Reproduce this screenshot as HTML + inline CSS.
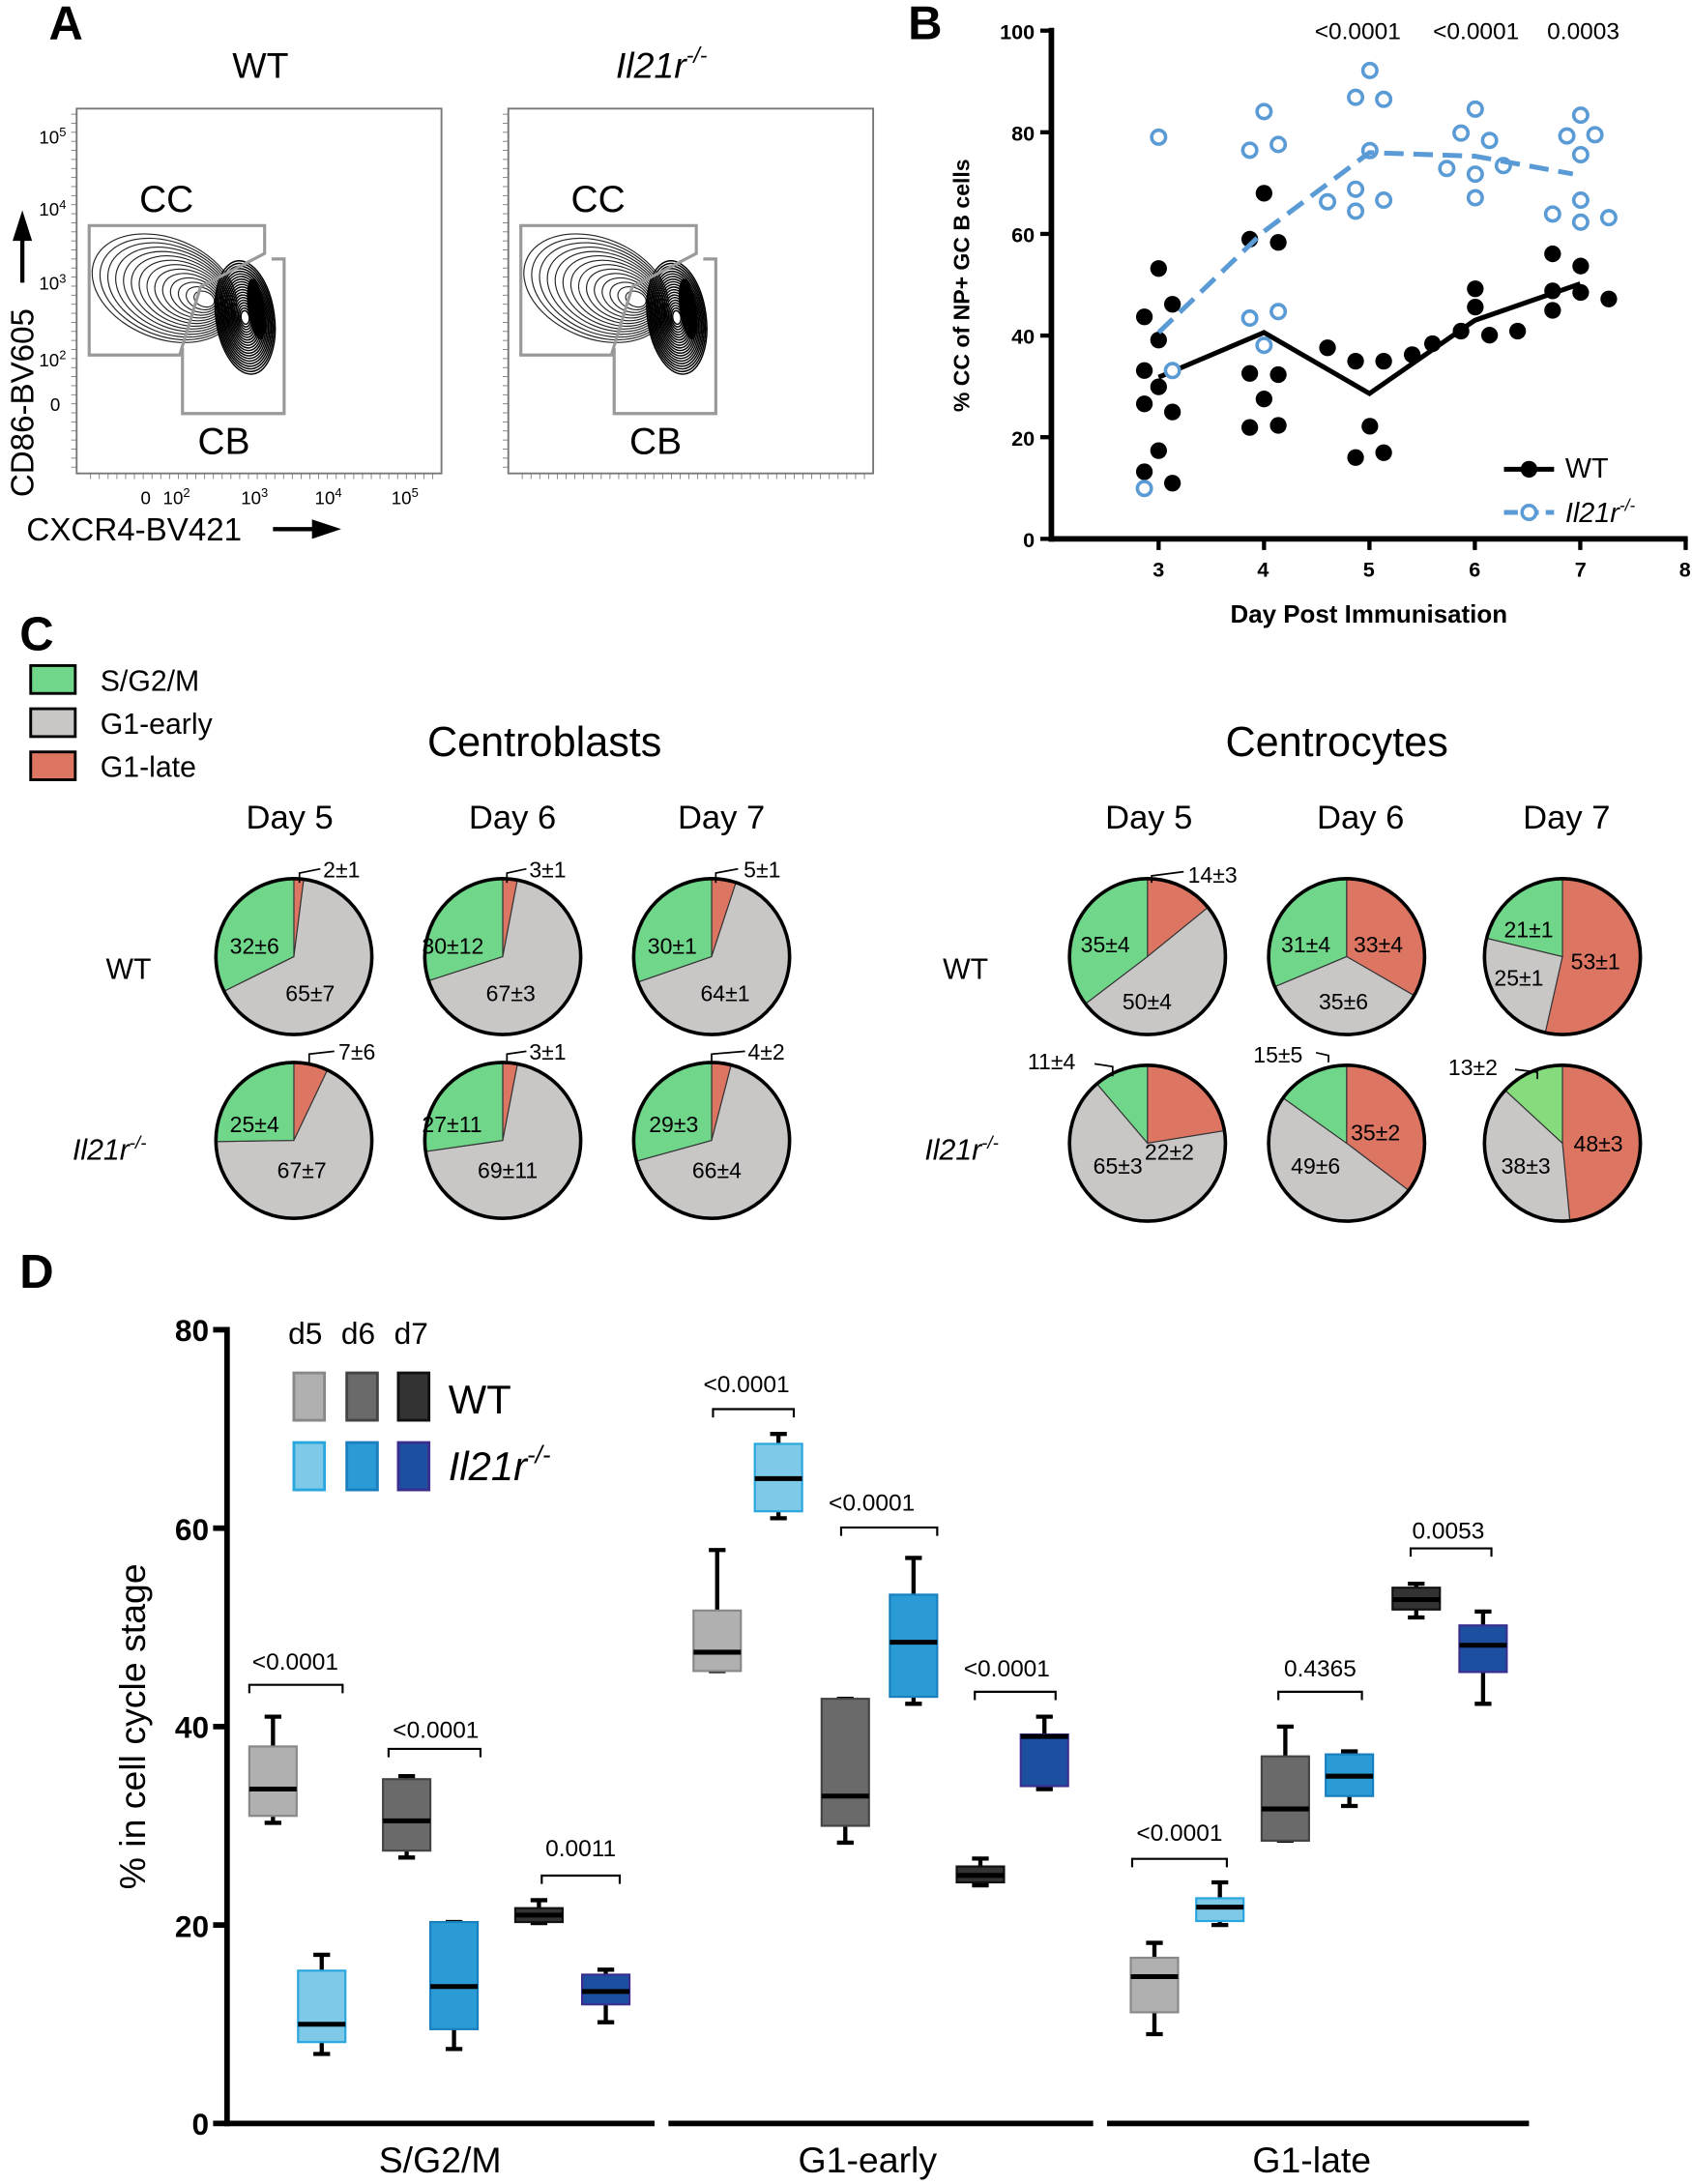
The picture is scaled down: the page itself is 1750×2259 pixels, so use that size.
<!DOCTYPE html>
<html><head><meta charset="utf-8">
<style>
html,body{margin:0;padding:0;background:#fff;}
svg{display:block;}
text{font-family:"Liberation Sans",Arial,sans-serif;fill:#000;}
.pl{font-family:"DejaVu Sans Condensed","DejaVu Sans","Liberation Sans",sans-serif;font-size:16px;}
</style></head><body>
<svg id="s" width="1750" height="2259" viewBox="0 0 1215 1568.5" xmlns="http://www.w3.org/2000/svg">
<!-- Panel letters -->
<text x="35" y="28" font-size="34" font-weight="bold">A</text>
<text x="652" y="28" font-size="34" font-weight="bold">B</text>
<text x="14" y="467" font-size="34" font-weight="bold">C</text>
<text x="14" y="925" font-size="34" font-weight="bold">D</text>

<!-- Panel A -->
<text x="187" y="56" font-size="26" text-anchor="middle">WT</text>
<text x="475" y="56" font-size="26" text-anchor="middle" font-style="italic">Il21r<tspan font-size="16" dy="-11">-/-</tspan></text>
<g id="flowA"></g>
<text x="28" y="103" font-size="13">10<tspan font-size="9" dy="-5">5</tspan></text>
<text x="28" y="155" font-size="13">10<tspan font-size="9" dy="-5">4</tspan></text>
<text x="28" y="208" font-size="13">10<tspan font-size="9" dy="-5">3</tspan></text>
<text x="28" y="263" font-size="13">10<tspan font-size="9" dy="-5">2</tspan></text>
<text x="36" y="295" font-size="13">0</text>
<text x="101" y="362" font-size="13">0</text>
<text x="117" y="362" font-size="13">10<tspan font-size="9" dy="-5">2</tspan></text>
<text x="173" y="362" font-size="13">10<tspan font-size="9" dy="-5">3</tspan></text>
<text x="226" y="362" font-size="13">10<tspan font-size="9" dy="-5">4</tspan></text>
<text x="281" y="362" font-size="13">10<tspan font-size="9" dy="-5">5</tspan></text>
<text x="100" y="152" font-size="27">CC</text>
<text x="142" y="326" font-size="27">CB</text>
<text x="410" y="152" font-size="27">CC</text>
<text x="452" y="326" font-size="27">CB</text>
<text transform="translate(24,357) rotate(-90)" font-size="23">CD86-BV605</text>
<line x1="16" y1="203" x2="16" y2="170" stroke="#000" stroke-width="3"/>
<polygon points="9,173 23,173 16,151" fill="#000"/>
<text x="19" y="388" font-size="23">CXCR4-BV421</text>
<line x1="196" y1="380" x2="228" y2="380" stroke="#000" stroke-width="3"/>
<polygon points="224,373 224,387 245,380" fill="#000"/>

<!-- Panel B -->
<g id="panB"></g>
<text x="975" y="28" font-size="17" text-anchor="middle">&lt;0.0001</text>
<text x="1060" y="28" font-size="17" text-anchor="middle">&lt;0.0001</text>
<text x="1137" y="28" font-size="17" text-anchor="middle">0.0003</text>
<g font-size="15" font-weight="bold" text-anchor="end">
<text x="743" y="28">100</text><text x="743" y="101">80</text><text x="743" y="174">60</text><text x="743" y="247">40</text><text x="743" y="320">20</text><text x="743" y="393">0</text>
</g>
<g font-size="15" font-weight="bold" text-anchor="middle">
<text x="832" y="414">3</text><text x="907" y="414">4</text><text x="983" y="414">5</text><text x="1059" y="414">6</text><text x="1135" y="414">7</text><text x="1210" y="414">8</text>
</g>
<text x="983" y="447" font-size="18" font-weight="bold" text-anchor="middle">Day Post Immunisation</text>
<text transform="translate(696,205) rotate(-90)" font-size="16" font-weight="bold" text-anchor="middle">% CC of NP+ GC B cells</text>
<text x="1124" y="343" font-size="20">WT</text>
<text x="1124" y="375" font-size="20" font-style="italic">Il21r<tspan font-size="12" dy="-8">-/-</tspan></text>

<!-- Panel C -->
<rect x="22" y="478" width="32" height="20" fill="#6fd68a" stroke="#000" stroke-width="2"/>
<rect x="22" y="509" width="32" height="20" fill="#c9c6c6" stroke="#000" stroke-width="2"/>
<rect x="22" y="540" width="32" height="20" fill="#dd7563" stroke="#000" stroke-width="2"/>
<text x="72" y="496" font-size="21">S/G2/M</text>
<text x="72" y="527" font-size="21">G1-early</text>
<text x="72" y="558" font-size="21">G1-late</text>
<text x="391" y="543" font-size="30" text-anchor="middle">Centroblasts</text>
<text x="960" y="543" font-size="30" text-anchor="middle">Centrocytes</text>
<g font-size="24" text-anchor="middle">
<text x="208" y="595">Day 5</text><text x="368" y="595">Day 6</text><text x="518" y="595">Day 7</text>
<text x="825" y="595">Day 5</text><text x="977" y="595">Day 6</text><text x="1125" y="595">Day 7</text>
</g>
<text x="76" y="703" font-size="21">WT</text>
<text x="52" y="833" font-size="21" font-style="italic">Il21r<tspan font-size="13" dy="-8">-/-</tspan></text>
<text x="677" y="703" font-size="21">WT</text>
<text x="664" y="833" font-size="21" font-style="italic">Il21r<tspan font-size="13" dy="-8">-/-</tspan></text>
<g id="pies"></g>
<g class="pl">
<text x="232" y="630">2±1</text><text x="165" y="685">32±6</text><text x="205" y="719">65±7</text>
<text x="380" y="630">3±1</text><text x="303" y="685">30±12</text><text x="349" y="719">67±3</text>
<text x="534" y="630">5±1</text><text x="465" y="685">30±1</text><text x="503" y="719">64±1</text>
<text x="243" y="761">7±6</text><text x="165" y="813">25±4</text><text x="199" y="846">67±7</text>
<text x="380" y="761">3±1</text><text x="303" y="813">27±11</text><text x="343" y="846">69±11</text>
<text x="537" y="761">4±2</text><text x="466" y="813">29±3</text><text x="497" y="846">66±4</text>
<text x="853" y="634">14±3</text><text x="776" y="684">35±4</text><text x="806" y="725">50±4</text>
<text x="920" y="684">31±4</text><text x="972" y="684">33±4</text><text x="947" y="725">35±6</text>
<text x="1080" y="673">21±1</text><text x="1073" y="708">25±1</text><text x="1128" y="696">53±1</text>
<text x="738" y="768">11±4</text><text x="822" y="833">22±2</text><text x="785" y="843">65±3</text>
<text x="900" y="763">15±5</text><text x="970" y="819">35±2</text><text x="927" y="843">49±6</text>
<text x="1040" y="772">13±2</text><text x="1130" y="827">48±3</text><text x="1078" y="843">38±3</text>
</g>
<g fill="none" stroke="#000" stroke-width="1.2">
<polyline points="215,634 215,627 230,624"/>
<polyline points="364,634 364,627 378,624"/>
<polyline points="514,634 514,627 530,624"/>
<polyline points="222,763 222,757 240,755"/>
<polyline points="364,763 364,757 378,755"/>
<polyline points="511,763 511,757 535,755"/>
<polyline points="827,634 827,629 850,626"/>
<polyline points="799,773 799,766 786,764"/>
<polyline points="954,763 954,758 945,756"/>
<polyline points="1104,775 1104,770 1088,768"/>
</g>

<!-- Panel D -->
<g id="panD"></g>
<g font-size="22" font-weight="bold" text-anchor="end">
<text x="150" y="963">80</text><text x="150" y="1106">60</text><text x="150" y="1248">40</text><text x="150" y="1391">20</text><text x="150" y="1533">0</text>
</g>
<text transform="translate(104,1240) rotate(-90)" font-size="26" text-anchor="middle">% in cell cycle stage</text>
<g font-size="26" text-anchor="middle">
<text x="316" y="1560">S/G2/M</text><text x="623" y="1560">G1-early</text><text x="942" y="1560">G1-late</text>
</g>
<g font-size="22">
<text x="207" y="965">d5</text><text x="245" y="965">d6</text><text x="283" y="965">d7</text>
</g>
<text x="322" y="1015" font-size="29">WT</text>
<text x="322" y="1063" font-size="29" font-style="italic">Il21r<tspan font-size="18" dy="-12">-/-</tspan></text>
<g font-size="17" text-anchor="middle">
<text x="212" y="1199">&lt;0.0001</text><text x="313" y="1248">&lt;0.0001</text><text x="417" y="1333">0.0011</text>
<text x="536" y="1000">&lt;0.0001</text><text x="626" y="1085">&lt;0.0001</text><text x="723" y="1204">&lt;0.0001</text>
<text x="847" y="1322">&lt;0.0001</text><text x="948" y="1204">0.4365</text><text x="1040" y="1105">0.0053</text>
</g>
</svg>
<script>
var NS="http://www.w3.org/2000/svg";
function el(p,t,a){var e=document.createElementNS(NS,t);for(var k in a)e.setAttribute(k,a[k]);p.appendChild(e);return e;}
// Panel A flow plots
var fa=document.getElementById("flowA");
[0,310].forEach(function(o,i){
 var x0=55+o, gx=o;
 el(fa,"rect",{x:x0,y:78,width:262,height:262,fill:"none",stroke:"#777","stroke-width":1.3});
 for(var t=0;t<40;t++){el(fa,"line",{x1:x0-4,y1:82+t*6.5,x2:x0,y2:82+t*6.5,stroke:"#777","stroke-width":0.6});
  el(fa,"line",{x1:x0+10+t*6.3,y1:340,x2:x0+10+t*6.3,y2:344,stroke:"#777","stroke-width":0.6});}
 // CC contours
 for(var k=0;k<14;k++){
  var f=1-k/14, cx=gx+118+k*2.2, cy=207+k*0.6;
  el(fa,"ellipse",{cx:cx,cy:cy,rx:50*f+4,ry:33*f+3,fill:"none",stroke:"#222","stroke-width":0.8,transform:"rotate(22 "+cx+" "+cy+")"});
 }
 // CB dense contours
 for(var k=0;k<20;k++){
  var f=1-k/20, cx=gx+176, cy=228;
  el(fa,"ellipse",{cx:cx,cy:cy,rx:19*f+2,ry:38*f+3,fill:"none",stroke:"#000","stroke-width":1,transform:"rotate(-8 "+cx+" "+cy+")"});
 }
 el(fa,"ellipse",{cx:gx+184,cy:222,rx:6,ry:22,fill:"#000",transform:"rotate(-8 "+(gx+184)+" 222)"});
 // gates
 el(fa,"polygon",{points:[[64,162],[190,162],[190,182],[144,206],[129,255],[64,255]].map(function(p){return (p[0]+gx)+","+p[1];}).join(" "),fill:"none",stroke:"#999","stroke-width":2.2});
 el(fa,"polyline",{points:[[131,250],[131,297],[204,297],[204,186],[195,186]].map(function(p){return (p[0]+gx)+","+p[1];}).join(" "),fill:"none",stroke:"#999","stroke-width":2.2});
});
// Panel B
var b=document.getElementById("panB");
function X(d){return 832+75.7*(d-3);} function Y(v){return 387-3.65*v;}
el(b,"line",{x1:755,y1:20,x2:755,y2:389,stroke:"#000","stroke-width":4});
el(b,"line",{x1:753,y1:387,x2:1212,y2:387,stroke:"#000","stroke-width":4});
[0,20,40,60,80,100].forEach(function(v){el(b,"line",{x1:747,y1:Y(v),x2:755,y2:Y(v),stroke:"#000","stroke-width":3});});
[3,4,5,6,7,8].forEach(function(d){el(b,"line",{x1:X(d),y1:387,x2:X(d),y2:395,stroke:"#000","stroke-width":3});});
function zx(z){return 832+(z-331)*75.7/244;} function zy(z){return Y((1322-z)/12.5);}
var wt=[[331,657],[298,776],[363,745],[331,833],[298,908],[331,948],[298,990],[363,1010],[331,1105],[298,1157],[363,1185],[575,472],[542,585],[608,593],[542,915],[608,918],[575,978],[542,1048],[608,1043],[722,852],[787,885],[852,885],[918,869],[965,842],[820,1045],[787,1122],[852,1110],[1031,811],[1064,707],[1064,752],[1097,821],[1162,811],[1243,621],[1308,651],[1243,712],[1243,760],[1308,716],[1373,732]];
var il=[[331,334],[363,908],[298,1198],[575,271],[542,366],[608,352],[542,779],[608,763],[575,846],[820,170],[787,236],[852,241],[820,367],[722,493],[787,462],[787,516],[852,489],[1064,265],[1031,324],[1097,342],[998,411],[1064,425],[1129,404],[1064,483],[1308,280],[1276,331],[1341,328],[1308,377],[1308,489],[1243,523],[1308,543],[1373,532]];
wt.forEach(function(p){el(b,"circle",{cx:zx(p[0]),cy:zy(p[1]),r:6,fill:"#000"});});
el(b,"polyline",{points:[[3,31.8],[4,40.6],[5,28.6],[6,43],[7,50.2]].map(function(p){return X(p[0])+","+Y(p[1]);}).join(" "),fill:"none",stroke:"#000","stroke-width":3.5});
il.forEach(function(p){el(b,"circle",{cx:zx(p[0]),cy:zy(p[1]),r:5,fill:"#fff",stroke:"#5b9bd5","stroke-width":2.5});});
el(b,"polyline",{points:[[3,40.6],[4,60.5],[5,76],[6,75.3],[6.93,71.8]].map(function(p){return X(p[0])+","+Y(p[1]);}).join(" "),fill:"none",stroke:"#5b9bd5","stroke-width":3.5,"stroke-dasharray":"14,7"});
el(b,"line",{x1:1080,y1:337,x2:1116,y2:337,stroke:"#000","stroke-width":3.5});
el(b,"circle",{cx:1098,cy:337,r:6,fill:"#000"});
el(b,"line",{x1:1080,y1:368,x2:1116,y2:368,stroke:"#5b9bd5","stroke-width":3.5,"stroke-dasharray":"10,5"});
el(b,"circle",{cx:1098,cy:368,r:5,fill:"#fff",stroke:"#5b9bd5","stroke-width":2.5});
// Pies
var pg=document.getElementById("pies");
function pie(cx,cy,L,E,G,gcol){
 var r=56,tot=L+E+G,a=0;
 [[L,"#dd7563"],[E,"#c9c6c6"],[G,gcol||"#6fd68a"]].forEach(function(s){
  var a1=a+s[0]/tot*2*Math.PI;
  var x0=cx+r*Math.sin(a),y0=cy-r*Math.cos(a),x1=cx+r*Math.sin(a1),y1=cy-r*Math.cos(a1);
  el(pg,"path",{d:"M"+cx+","+cy+" L"+x0+","+y0+" A"+r+","+r+" 0 "+((a1-a)>Math.PI?1:0)+" 1 "+x1+","+y1+" Z",fill:s[1],stroke:"#333","stroke-width":0.8});
  a=a1;});
 el(pg,"circle",{cx:cx,cy:cy,r:r,fill:"none",stroke:"#000","stroke-width":2.5});
}
pie(211,687,2,65,32);pie(361,687,3,67,30);pie(511,687,5,64,30);
pie(211,819,7,67,25);pie(361,819,3,69,27);pie(511,819,4,66,29);
pie(824,687,14,50,35);pie(967,687,33,35,31);pie(1122,687,53,25,21);
pie(824,821,22,65,11);pie(967,821,35,49,15);pie(1122,821,48,38,13,"#86dc7c");
// Panel D
var d=document.getElementById("panD");
function V(v){return 1525-7.125*v;}
el(d,"line",{x1:163,y1:953,x2:163,y2:1527,stroke:"#000","stroke-width":4});
[0,20,40,60,80].forEach(function(v){el(d,"line",{x1:153,y1:V(v),x2:163,y2:V(v),stroke:"#000","stroke-width":4});});
[[163,470],[480,785],[795,1098]].forEach(function(s){el(d,"line",{x1:s[0],y1:1525,x2:s[1],y2:1525,stroke:"#000","stroke-width":4});});
var C={w5:["#b0b0b0","#888"],w6:["#6a6a6a","#444"],w7:["#333","#111"],i5:["#7ec8e8","#2aa6de"],i6:["#2b9bd6","#1a7fbf"],i7:["#1d4fa0","#3a2f8f"]};
var bx=[[196,"w5",31,38,33.7,30.3,41],[231,"i5",8.2,15.4,10,7,17],[292,"w6",27.5,34.7,30.5,26.8,35],[326,"i6",9.5,20.3,13.8,7.5,20.3],[387,"w7",20.3,21.7,21,20.2,22.5],[435,"i7",12,15,13.3,10.2,15.5],
[515,"w5",45.6,51.7,47.5,45.6,57.8],[559,"i5",61.7,68.5,65,61,69.5],[607,"w6",30,42.8,33,28.3,42.8],[656,"i6",43,53.3,48.5,42.3,57],[704,"w7",24.3,25.9,25,24,26.7],[750,"i7",34,39.2,39,33.7,41],
[829,"w5",11.2,16.7,14.8,9,18.2],[876,"i5",20.4,22.7,21.8,20,24.3],[923,"w6",28.5,37,31.7,28.5,40],[969,"i6",33,37.2,35,32,37.5],[1017,"w7",51.8,54,52.8,51,54.4],[1065,"i7",45.5,50.2,48.2,42.3,51.6]];
bx.forEach(function(q){var x=q[0],w=17;
 el(d,"line",{x1:x,y1:V(q[6]),x2:x,y2:V(q[5]),stroke:"#000","stroke-width":3});
 el(d,"line",{x1:x-6,y1:V(q[6]),x2:x+6,y2:V(q[6]),stroke:"#000","stroke-width":3});
 el(d,"line",{x1:x-6,y1:V(q[5]),x2:x+6,y2:V(q[5]),stroke:"#000","stroke-width":3});
 el(d,"rect",{x:x-w,y:V(q[3]),width:2*w,height:V(q[2])-V(q[3]),fill:C[q[1]][0],stroke:C[q[1]][1],"stroke-width":1.5});
 el(d,"line",{x1:x-w,y1:V(q[4]),x2:x+w,y2:V(q[4]),stroke:"#000","stroke-width":3.5});
});
[[179,246,1210],[279,345,1256],[389,445,1347],[512,570,1012],[604,673,1097],[700,758,1215],[813,881,1335],[918,978,1215],[1013,1071,1112]].forEach(function(k){
 el(d,"polyline",{points:k[0]+","+(k[2]+6)+" "+k[0]+","+k[2]+" "+k[1]+","+k[2]+" "+k[1]+","+(k[2]+6),fill:"none",stroke:"#000","stroke-width":1.5});});
[[222,"w5",1003],[260,"w6",1003],[297,"w7",1003],[222,"i5",1053],[260,"i6",1053],[297,"i7",1053]].forEach(function(k){
 el(d,"rect",{x:k[0]-11,y:k[2]-17,width:22,height:34,fill:C[k[1]][0],stroke:C[k[1]][1],"stroke-width":2});});
</script>
</body></html>
